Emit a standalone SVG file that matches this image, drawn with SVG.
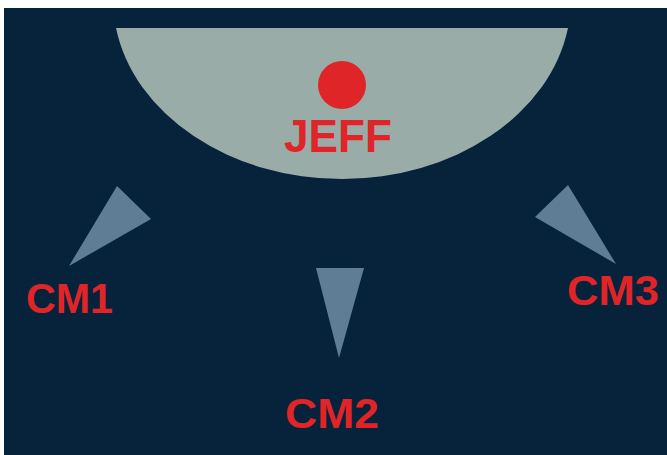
<svg xmlns="http://www.w3.org/2000/svg" width="667" height="455" viewBox="0 0 667 455">
  <style>
    .bg { fill: #ffffff; }
    .panel { fill: #06233b; }
    .dome { fill: #9aaca8; }
    .dot { fill: #e02528; }
    .wedge { fill: #5f7e95; }
    .lbl { font-family: "Liberation Sans", "DejaVu Sans", Arial, sans-serif; font-weight: bold; fill: #e02528; }
  </style>
  <rect class="bg" x="0" y="0" width="667" height="455"/>
  <rect class="panel" x="4" y="8" width="663" height="447"/>
  <g id="jeff">
    <path class="dome" d="M116,28 L568,28 A229,180 0 0 1 116,28 Z"/>
    <circle class="dot" cx="342" cy="85" r="24"/>
    <text class="lbl" x="284" y="152" font-size="46" textLength="108" lengthAdjust="spacingAndGlyphs">JEFF</text>
  </g>
  <g id="connectors">
    <polygon class="wedge" points="117,186 151,219 69,266"/>
    <polygon class="wedge" points="316,268 364,268 339,358"/>
    <polygon class="wedge" points="568,185 535,217 616,264"/>
  </g>
  <g id="cm1">
    <text class="lbl" x="26" y="313" font-size="42" textLength="87" lengthAdjust="spacingAndGlyphs">CM1</text>
  </g>
  <g id="cm2">
    <text class="lbl" x="285" y="428" font-size="42" textLength="94" lengthAdjust="spacingAndGlyphs">CM2</text>
  </g>
  <g id="cm3">
    <text class="lbl" x="567" y="305" font-size="42" textLength="92" lengthAdjust="spacingAndGlyphs">CM3</text>
  </g>
</svg>
